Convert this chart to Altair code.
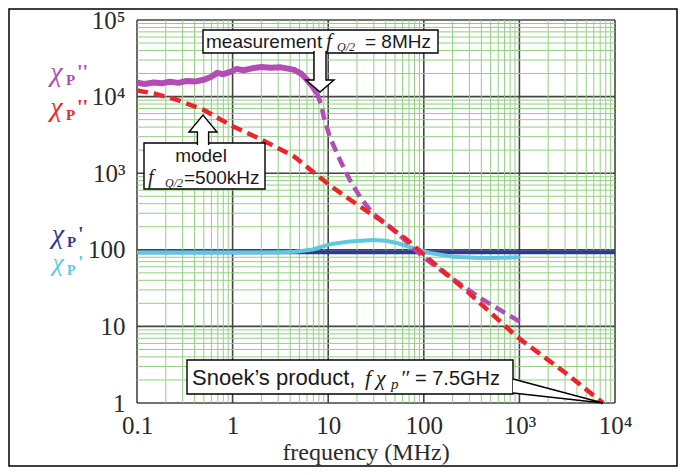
import altair as alt
import pandas as pd

# ---------------- data ----------------
# measured chi_P'' (purple)
meas_chi2_f = [0.1, 0.12, 0.15, 0.18, 0.22, 0.27, 0.33, 0.4, 0.5, 0.6, 0.69, 0.8, 0.95, 1.1,
               1.3, 1.6, 2.0, 2.5, 3.2, 3.8, 4.4, 5.2, 6.0, 6.8, 7.6,
               8.4, 9.0, 10.4, 13.3, 16.9, 21.5, 29, 44, 67, 98, 188, 400, 1010]
meas_chi2_v = [15200, 14600, 15300, 14900, 15600, 15100, 16000, 15700, 16600, 18200, 20400, 19600, 21000, 23000,
               22100, 23400, 24400, 23800, 24100, 23200, 22300, 20000, 16600, 13800, 11200,
               8000, 5400, 2970, 1480, 810, 490, 300, 200, 126, 81, 44, 23, 11.5]
SPLIT = 24  # noisy solid part up to 7.6 MHz, dashed afterwards

# model chi_P'' (red dashed)
model_chi2_f = [0.1, 0.15, 0.26, 0.5, 1.0, 2.0, 4.4, 8, 11, 17, 35, 67, 125, 300, 944, 3000, 7500]
model_chi2_v = [12000, 11000, 9100, 6700, 4100, 2750, 1650, 900, 660, 450, 245, 135, 68, 27, 7.3, 2.5, 1.0]

# model chi_P' (dark blue)
model_chi1_f = [0.1, 10000]
model_chi1_v = [93, 93]

# measured chi_P' (cyan)
meas_chi1_f = [0.1, 0.3, 1, 3.1, 4.5, 5.5, 6.9, 10.4, 15, 20, 29.5, 40, 52, 77, 116, 202, 385, 700, 1010]
meas_chi1_v = [92, 92, 92, 93, 94, 97, 101, 118, 126, 130, 134, 131, 123, 105, 91, 81, 78, 79, 80]

x_major = [0.1, 1, 10, 100, 1000, 10000]
y_major = [1, 10, 100, 1000, 10000, 100000]
x_minor = [k * 10.0 ** d for d in range(-1, 4) for k in range(2, 10)]
y_minor = [k * 10.0 ** d for d in range(0, 5) for k in range(2, 10)]

# ---------------- styling ----------------
W, H = 478, 383
PAD = {"left": 129, "top": 12, "right": 63, "bottom": 64}
SERIF = "Liberation Serif"
SANS = "Liberation Sans"
GREEN = "#93cf82"
MAJOR = "#454545"
PURPLE = "#b24db6"
RED = "#e8262c"
BLUE = "#2d3b8e"
CYAN = "#5ec8de"

xs = alt.Scale(type="log", domain=[0.1, 10000], nice=False)
ys = alt.Scale(type="log", domain=[1, 100000], nice=False)

x_label_expr = ("datum.value < 0.5 ? '0.1' : datum.value < 5 ? '1' : datum.value < 50 ? '10' : "
                "datum.value < 500 ? '100' : datum.value < 5000 ? '10\u00b3' : '10\u2074'")
y_label_expr = ("datum.value < 5 ? '1' : datum.value < 50 ? '10' : datum.value < 500 ? '100' : "
                "datum.value < 5000 ? '10\u00b3' : datum.value < 50000 ? '10\u2074' : '10\u2075'")

AX = alt.Axis(values=x_major, labelExpr=x_label_expr, grid=False, ticks=False, domain=False,
              labelFont=SERIF, labelFontSize=25, labelColor="#2a2a2a", labelPadding=10,
              labelFlush=False, labelOverlap=False, title=None)
AY = alt.Axis(values=y_major, labelExpr=y_label_expr, grid=False, ticks=False, domain=False,
              labelFont=SERIF, labelFontSize=25, labelColor="#2a2a2a", labelPadding=12,
              labelFlush=False, labelOverlap=False, title=None)

one = pd.DataFrame({"k": [0]})


def series(f, v):
    return pd.DataFrame({"f": f, "v": v})


def line(f, v, color, width, dash=None):
    kw = dict(color=color, strokeWidth=width, clip=False, strokeCap="butt", strokeJoin="round")
    if dash:
        kw["strokeDash"] = dash
    return alt.Chart(series(f, v)).mark_line(**kw).encode(
        x=alt.X("f:Q", scale=xs, axis=AX),
        y=alt.Y("v:Q", scale=ys, axis=AY),
        order="f:Q",
    )


def txt(s, x, y, size, color="#1a1a1a", font=SANS, style="normal", weight="normal", align="left"):
    return alt.Chart(one).mark_text(
        text=s, font=font, fontSize=size, fontStyle=style, fontWeight=weight,
        color=color, align=align, baseline="alphabetic",
    ).encode(x=alt.value(x), y=alt.value(y))


def shape(path, x, y, size=1600):
    return alt.Chart(one).mark_point(
        shape=path, size=size, filled=True, fill="white", stroke="black",
        strokeWidth=1.4, opacity=1,
    ).encode(x=alt.value(x), y=alt.value(y))


def box(x1, x2, y1, y2):
    return alt.Chart(one).mark_rect(fill="white", stroke="black", strokeWidth=1.4).encode(
        x=alt.value(x1), x2=alt.value(x2), y=alt.value(y1), y2=alt.value(y2))


frame = alt.Chart(one).mark_rect(filled=False, stroke="black", strokeWidth=1.5).encode(
    x=alt.value(-128), x2=alt.value(W + PAD["right"] - 1),
    y=alt.value(-11), y2=alt.value(H + PAD["bottom"] - 1))

xminor = alt.Chart(pd.DataFrame({"f": x_minor})).mark_rule(color=GREEN, strokeWidth=1).encode(
    x=alt.X("f:Q", scale=xs, axis=AX))
yminor = alt.Chart(pd.DataFrame({"v": y_minor})).mark_rule(color=GREEN, strokeWidth=1).encode(
    y=alt.Y("v:Q", scale=ys, axis=AY))
xmajor = alt.Chart(pd.DataFrame({"f": x_major})).mark_rule(color=MAJOR, strokeWidth=1.6).encode(
    x=alt.X("f:Q", scale=xs, axis=AX))
ymajor = alt.Chart(pd.DataFrame({"v": y_major})).mark_rule(color=MAJOR, strokeWidth=1.6).encode(
    y=alt.Y("v:Q", scale=ys, axis=AY))

blue = line(model_chi1_f, model_chi1_v, BLUE, 4)
cyan = line(meas_chi1_f, meas_chi1_v, CYAN, 4)
purple_solid = line(meas_chi2_f[:SPLIT + 1], meas_chi2_v[:SPLIT + 1], PURPLE, 6)
purple_dash = line(meas_chi2_f[SPLIT:], meas_chi2_v[SPLIT:], PURPLE, 4.5, [11, 6])
red = line(model_chi2_f, model_chi2_v, RED, 4.5, [11, 6])

# left-hand labels (chi_P'' / chi_P')
legend = [
    txt("\u03c7", -80.5, 61, 28, PURPLE, SERIF, style="italic", align="center"),
    txt("P", -71, 65, 15, PURPLE, SERIF, weight="bold"),
    txt("''", -60, 59, 20, PURPLE, SERIF, weight="bold"),
    txt("\u03c7", -80.5, 96, 28, RED, SERIF, style="italic", align="center"),
    txt("P", -71, 100, 15, RED, SERIF, weight="bold"),
    txt("''", -60, 94, 20, RED, SERIF, weight="bold"),
    txt("\u03c7", -79, 223, 28, BLUE, SERIF, style="italic", align="center"),
    txt("P", -70, 227, 15, BLUE, SERIF, weight="bold"),
    txt("'", -59, 221, 20, BLUE, SERIF, weight="bold"),
    txt("\u03c7", -79, 251, 26, CYAN, SERIF, style="italic", align="center"),
    txt("P", -70, 255, 14, CYAN, SERIF, weight="bold"),
    txt("'", -59, 249, 19, CYAN, SERIF, weight="bold"),
]

# annotation: measurement
ann_meas = [
    box(66, 301, 10, 33),
    shape("M-0.3,-0.1L-0.3,1.35L-0.7,1.35L0,1.95L0.7,1.35L0.3,1.35L0.3,-0.1", 183, 33),
    txt("measurement", 69, 28, 19),
    txt("f", 189, 28, 21, font=SERIF, style="italic"),
    txt("Q/2", 200, 31, 12, font=SERIF, style="italic"),
    txt("= 8MHz", 228, 28, 19),
]

# annotation: model
ann_model = [
    box(7, 128, 123, 169),
    shape("M-0.28,0.1L-0.28,-0.55L-0.7,-0.55L0,-1.4L0.7,-0.55L0.28,-0.55L0.28,0.1", 66, 123),
    txt("model", 64, 142, 19, align="center"),
    txt("f", 11, 164, 20, font=SERIF, style="italic"),
    txt("Q/2", 28, 167, 12, font=SERIF, style="italic"),
    txt("=500kHz", 47, 164, 19),
]

# annotation: Snoek's product
ann_snoek = [
    box(50, 376, 340, 374),
    shape("M0,0L4.5,1.2L0,0.7", 376, 359),
    txt("Snoek\u2019s product,", 55, 365, 22),
    txt("f", 228, 365, 22, font=SERIF, style="italic"),
    txt("\u03c7", 239, 365, 22, font=SERIF, style="italic"),
    txt("p", 254, 369, 15, font=SERIF, style="italic"),
    txt("\u2033", 263, 365, 22, font=SERIF, style="italic"),
    txt("= 7.5GHz", 278, 365, 20),
]

x_title = txt("frequency (MHz)", 229, 440, 24, "#2a2a2a", SERIF, align="center")

chart = alt.layer(
    frame, xmajor, ymajor, xminor, yminor,
    blue, cyan, purple_solid, purple_dash, red,
    *legend, *ann_meas, *ann_model, *ann_snoek, x_title,
).properties(
    width=W, height=H, padding=PAD,
    autosize=alt.AutoSizeParams(type="none"),
    background="white",
).configure_view(strokeWidth=0)

chart.save("out.html", embed_options={"renderer": "svg", "actions": False})
